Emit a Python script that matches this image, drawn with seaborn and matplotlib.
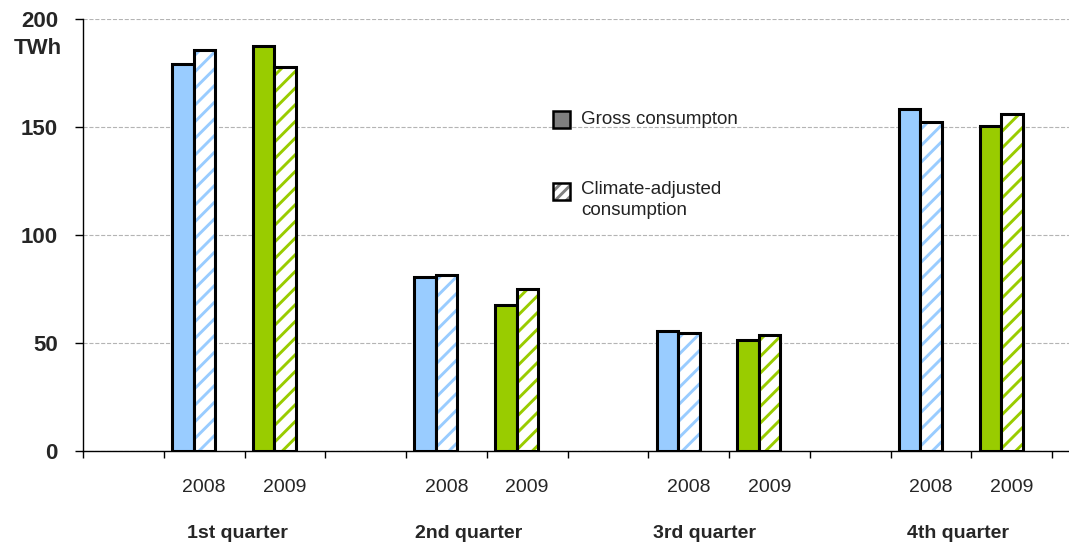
import matplotlib
matplotlib.use('Agg')
import matplotlib.pyplot as plt
from matplotlib.patches import Rectangle
import pandas as pd
import seaborn as sns

quarters = ['1st quarter', '2nd quarter', '3rd quarter', '4th quarter']
years = ['2008', '2009']
gross = [179, 187.5, 80.5, 67.5, 55.5, 51.5, 158.5, 150.5]
climate = [185.5, 178, 81.5, 75, 54.5, 53.7, 152.2, 156]
year_colors = {'2008': '#99CCFF', '2009': '#99CC00'}
kinds = ['Gross consumpton', 'Climate-adjusted\nconsumption']

# slots: a blank gap before each quarter, then 2008 and 2009
slot_order = []
slot_labels = []
rows = []
i = 0
for q in quarters:
    slot_order.append(q + ' gap')
    slot_labels.append('')
    for y in years:
        slot = q + ' ' + y
        slot_order.append(slot)
        slot_labels.append(y)
        rows.append({'slot': slot, 'year': y, 'kind': kinds[0], 'value': gross[i]})
        rows.append({'slot': slot, 'year': y, 'kind': kinds[1], 'value': climate[i]})
        i += 1
df = pd.DataFrame(rows)

sns.set_style('white')
plt.rcParams['font.family'] = ['Liberation Sans', 'DejaVu Sans']
plt.rcParams['hatch.linewidth'] = 2.1

fig = plt.figure(figsize=(10.69, 5.46), dpi=100)
ax = fig.add_axes([83 / 1069, 1 - 451 / 546, 1 - 83 / 1069, 432 / 546])

sns.barplot(data=df, x='slot', y='value', hue='kind', order=slot_order,
            hue_order=kinds, width=0.532, saturation=1, errorbar=None,
            legend=False, ax=ax)

shift = -0.13
for k, cont in enumerate(ax.containers):
    for bar in cont:
        cx = bar.get_x() + bar.get_width() / 2
        idx = int(round(cx))
        color = year_colors[slot_labels[idx]]
        bar.set_x(bar.get_x() + shift)
        if k == 0:
            bar.set_facecolor(color)
            bar.set_edgecolor('black')
            bar.set_linewidth(2.2)
        else:
            bar.set_facecolor('white')
            bar.set_edgecolor(color)
            bar.set_hatch('//')
            bar.set_linewidth(0)
            ax.add_patch(Rectangle((bar.get_x(), 0), bar.get_width(), bar.get_height(),
                                   fill=False, ec='black', lw=2.2, zorder=3))

ax.set_xlim(-0.5, 11.71)
ax.set_ylim(0, 200)
ax.set_yticks([0, 50, 100, 150, 200])
ax.yaxis.grid(True, ls='--', color='#b4b4b4', lw=0.8)
ax.set_axisbelow(True)
ax.set_xticks(range(len(slot_order)))
ax.set_xticklabels(slot_labels, fontsize=14)
ax.set_xticks([x - 0.5 for x in range(len(slot_order) + 1)], minor=True)
ax.tick_params(axis='x', which='major', bottom=True, length=0, pad=20)
ax.tick_params(axis='x', which='minor', bottom=True, length=5, width=1,
               color='black', direction='out')
ax.tick_params(axis='y', left=True, length=6, width=1, color='black',
               direction='out', pad=12, labelsize=16)
for t in ax.get_yticklabels():
    t.set_fontweight('bold')
ax.set_xlabel('')
ax.set_ylabel('')
for s in ['top', 'right']:
    ax.spines[s].set_visible(False)
for s in ['left', 'bottom']:
    ax.spines[s].set_color('black')
    ax.spines[s].set_linewidth(1)

fig.text(62 / 1069, 1 - 48 / 546, 'TWh', ha='right', va='center',
         fontsize=16, fontweight='bold')

q_shift = [-0.09, -0.22, -0.3, -0.16]
for qi, q in enumerate(quarters):
    xc = qi * 3 + 1.5 + q_shift[qi]
    ax.text(xc, -0.19, q, transform=ax.get_xaxis_transform(), ha='center',
            va='center', fontsize=14, fontweight='bold')

# legend drawn by hand so the square lines up with the first text line
W, H = 1069, 546
def legend_square(x, y, hatched):
    if hatched:
        fig.patches.append(Rectangle((x / W, 1 - (y + 17) / H), 17 / W, 17 / H,
                                     transform=fig.transFigure, fc='white',
                                     ec='#808080', hatch='///', lw=0))
        fig.patches.append(Rectangle((x / W, 1 - (y + 17) / H), 17 / W, 17 / H,
                                     transform=fig.transFigure, fill=False,
                                     ec='black', lw=1.8))
    else:
        fig.patches.append(Rectangle((x / W, 1 - (y + 17) / H), 17 / W, 17 / H,
                                     transform=fig.transFigure, fc='#808080',
                                     ec='black', lw=1.8))

legend_square(553, 111, False)
legend_square(553, 183, True)
fig.text(581 / W, 1 - 119 / H, kinds[0], ha='left', va='center',
         fontsize=13.5, color='#222222')
fig.text(581 / W, 1 - 181 / H, kinds[1], ha='left', va='top',
         fontsize=13.5, color='#222222', linespacing=1.3)

fig.savefig('out.png', dpi=100)
